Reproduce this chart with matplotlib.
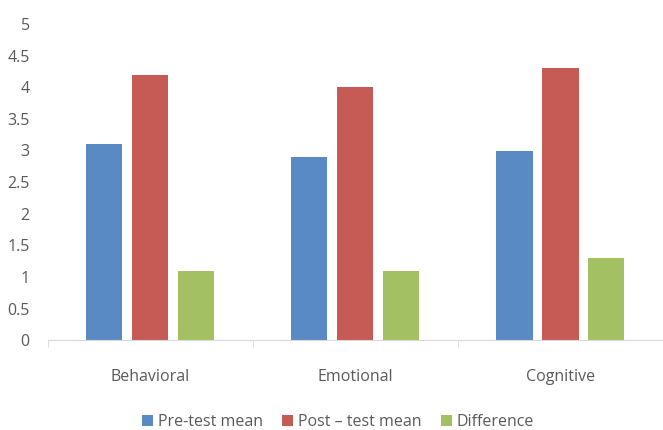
import numpy as np
import matplotlib.pyplot as plt
from matplotlib.ticker import FuncFormatter

plt.rcParams['font.family'] = ['Open Sans', 'DejaVu Sans']

categories = ["Behavioral", "Emotional", "Cognitive"]
pre_test = [3.1, 2.9, 3.0]
post_test = [4.2, 4.0, 4.3]
difference = [1.1, 1.1, 1.3]
series_names = ["Pre-test mean", "Post \u2013 test mean", "Difference"]
colors = ["#5A8AC4", "#C65A55", "#A3C163"]

fig = plt.figure(figsize=(6.63, 4.30), dpi=100)
ax = fig.add_axes([0.072, 0.209, 0.928, 0.735])

x = np.arange(len(categories))
width = 0.176
offset = 0.224
for i, (vals, name, c) in enumerate(zip([pre_test, post_test, difference], series_names, colors)):
    ax.bar(x + (i - 1) * offset, vals, width, color=c, label=name)

ax.set_xlim(-0.5, 2.5)
ax.set_ylim(0, 5)
ax.set_yticks(np.arange(0, 5.01, 0.5))
ax.yaxis.set_major_formatter(FuncFormatter(lambda v, p: f"{v:g}"))
ax.set_xticks(x)
ax.set_xticklabels(categories)
ax.set_xticks([-0.5, 0.5, 1.5, 2.5], minor=True)

for s in ["top", "right", "left"]:
    ax.spines[s].set_visible(False)
ax.spines["bottom"].set_color("#D9D9D9")
ax.tick_params(axis="y", length=0, labelsize=11.5, labelcolor="#595959", pad=13)
ax.tick_params(axis="x", which="major", length=0, labelsize=11.5, labelcolor="#595959", pad=21)
ax.tick_params(axis="x", which="minor", length=5, color="#D9D9D9")

leg = fig.legend(loc="center", bbox_to_anchor=(0.51, 0.018), ncol=3, frameon=False,
                 fontsize=11.5, handlelength=0.7, handleheight=0.7, handletextpad=0.3,
                 columnspacing=1.2, labelcolor="#595959")

fig.savefig("out.png", dpi=100)
